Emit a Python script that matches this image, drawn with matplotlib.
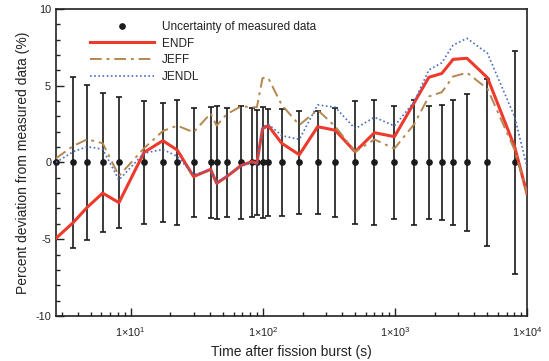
import matplotlib
matplotlib.use('Agg')
import matplotlib.pyplot as plt
from matplotlib.lines import Line2D
from matplotlib.ticker import FixedLocator, LogLocator, MultipleLocator, NullFormatter

plt.rcParams['font.family'] = ['Liberation Sans', 'DejaVu Sans']
plt.rcParams['mathtext.fontset'] = 'custom'
plt.rcParams['mathtext.rm'] = 'Liberation Sans'
plt.rcParams['mathtext.it'] = 'Liberation Sans'
plt.rcParams['axes.unicode_minus'] = False

# measurement times (s) and 1-sigma uncertainty (%)
t_meas = [2.72, 3.67, 4.69, 6.14, 8.15, 12.6, 17.5, 22.5, 29.9, 40.3, 44.7,
          53.4, 68.5, 82.6, 90.2, 99.5, 110, 139, 189, 260, 353, 500, 700,
          991, 1400, 1806, 2264, 2756, 3510, 5020, 8050]
unc = [0.0, 5.59, 5.05, 4.55, 4.29, 4.0, 3.9, 4.07, 3.57, 3.64, 3.68,
       3.57, 3.68, 3.53, 3.42, 3.64, 3.47, 3.47, 3.37, 3.37, 3.53, 4.03, 4.07,
       3.68, 4.07, 3.68, 3.75, 4.07, 4.46, 5.42, 7.28]

# calculated deviations (%) for each library
t_calc = t_meas + [10000]
endf = [-4.94, -3.92, -2.92, -2.0, -2.62, 0.65, 1.42, 0.81, -0.92, -0.45, -1.36,
        -0.92, -0.2, 0.05, -0.05, 2.2, 2.4, 1.25, 0.5, 2.33, 2.1, 0.7, 1.94,
        1.68, 3.9, 5.55, 5.8, 6.72, 6.79, 5.52, 1.03, -2.05]
jeff = [0.27, 1.07, 1.51, 1.25, -0.88, 0.92, 2.05, 2.4, 1.97, 3.2, 2.4,
        3.15, 3.66, 3.6, 3.6, 5.5, 5.5, 3.75, 2.44, 3.42, 2.35, 0.7, 1.5,
        0.9, 2.5, 4.3, 4.58, 5.6, 5.85, 4.8, 0.81, -2.0]
jendl = [0.0, 0.7, 1.03, 0.86, -1.14, 0.6, 0.85, 0.4, -0.8, -0.5, -1.3,
         -0.9, -0.2, 0.0, -0.15, 2.3, 2.5, 1.75, 1.5, 3.75, 3.6, 2.2, 2.95,
         2.38, 3.96, 6.03, 6.5, 7.65, 8.09, 7.11, 2.98, -0.3]

fig = plt.figure(figsize=(5.49, 3.61), dpi=100)
ax = fig.add_axes([0.102, 0.125, 0.858, 0.85])

ax.errorbar(t_meas, [0] * len(t_meas), yerr=unc, fmt='o', color='#1a1a1a',
            ms=3.8, elinewidth=1.2, capsize=2.3, capthick=1.2, clip_on=False,
            zorder=2)
ax.plot(t_calc, endf, color='#ee3a2c', lw=2.2, zorder=3)
ax.plot(t_calc, jeff, color='#b5874f', lw=1.4, ls=(0, (6, 2.5, 1.5, 2.5)), zorder=4)
ax.plot(t_calc, jendl, color='#4a6bc0', lw=1.2, ls=(0, (1, 1.5)), zorder=5)

ax.set_xscale('log')
ax.set_xlim(2.72, 10000)
ax.set_ylim(-10, 10)

ax.xaxis.set_major_locator(FixedLocator([10, 100, 1000, 10000]))
ax.set_xticklabels([r'$1{\times}10^{1}$', r'$1{\times}10^{2}$',
                    r'$1{\times}10^{3}$', r'$1{\times}10^{4}$'])
ax.xaxis.set_minor_locator(LogLocator(base=10, subs=range(2, 10)))
ax.xaxis.set_minor_formatter(NullFormatter())
ax.yaxis.set_major_locator(MultipleLocator(5))
ax.yaxis.set_minor_locator(MultipleLocator(1))

ax.tick_params(which='both', direction='in', top=False, right=False,
               colors='#222222', labelsize=7.8, width=1.0)
ax.tick_params(which='major', length=6)
ax.tick_params(which='minor', length=3)
ax.tick_params(axis='x', pad=7)
for s in ax.spines.values():
    s.set_linewidth(1.2)
    s.set_color('#222222')

ax.set_xlabel('Time after fission burst (s)', fontsize=10, color='#222222')
ax.set_ylabel('Percent deviation from measured data (%)', fontsize=10,
              color='#222222')

handles = [
    Line2D([], [], ls='none', marker='o', ms=3.8, color='#1a1a1a'),
    Line2D([], [], color='#ee3a2c', lw=2.2),
    Line2D([], [], color='#b5874f', lw=1.4, ls=(0, (6, 2.5, 1.5, 2.5))),
    Line2D([], [], color='#4a6bc0', lw=1.2, ls=(0, (1, 1.5))),
]
labels = ['Uncertainty of measured data', 'ENDF', 'JEFF', 'JENDL']
ax.legend(handles, labels, loc='upper left', bbox_to_anchor=(0.05, 0.996),
          frameon=False, fontsize=8.5, handlelength=5.4, handletextpad=0.7,
          labelspacing=0.4, labelcolor='#222222')

fig.savefig('out.png', dpi=100)
